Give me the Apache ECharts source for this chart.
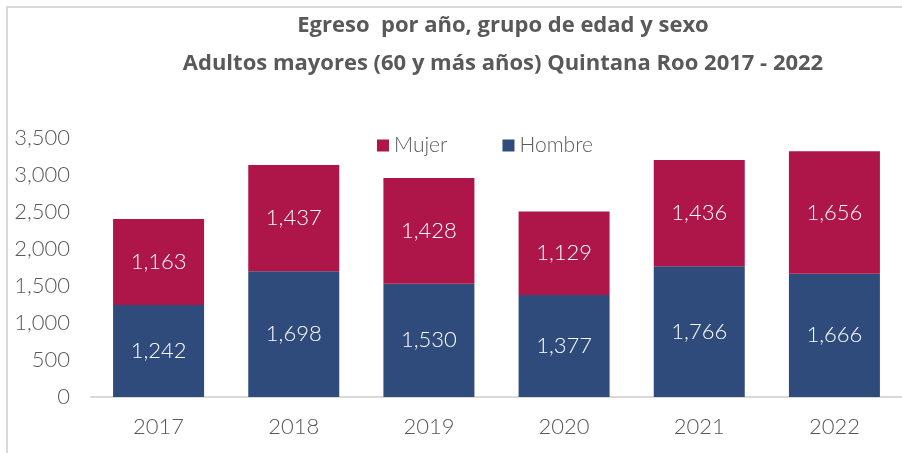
<!DOCTYPE html>
<html>
<head>
<meta charset="utf-8">
<script src="https://cdn.jsdelivr.net/npm/echarts@6/dist/echarts.min.js"></script>
<style>
  html, body { margin: 0; padding: 0; background: #fff; }
  #chart { width: 902px; height: 453px; }
</style>
</head>
<body>
<div id="chart"></div>
<script>
// datos
const years = ['2017', '2018', '2019', '2020', '2021', '2022'];
const hombre = [1242, 1698, 1530, 1377, 1766, 1666];
const mujer = [1163, 1437, 1428, 1129, 1436, 1656];
const yTicks = { min: 0, max: 3500, interval: 500 };

const gray = '#595959';
const fmt = v => v.toLocaleString('en-US');
const lightFont = 'Lato';

const chart = echarts.init(document.getElementById('chart'), null, { renderer: 'canvas' });

chart.setOption({
    animation: false,
    title: {
        text: 'Egreso  por año, grupo de edad y sexo\nAdultos mayores (60 y más años) Quintana Roo 2017 - 2022',
        left: 498,
        top: 2,
        textAlign: 'center',
        textStyle: {
            fontFamily: 'Open Sans',
            fontWeight: 'bold',
            fontSize: 22,
            color: gray,
            lineHeight: 38
        }
    },
    legend: {
        data: ['Mujer', 'Hombre'],
        left: 372,
        top: 130,
        itemWidth: 12,
        itemHeight: 12,
        itemGap: 55,
        icon: 'rect',
        textStyle: { fontFamily: lightFont, fontWeight: 300, fontSize: 21, color: gray }
    },
    graphic: [{
        type: 'polyline',
        shape: { points: [[7, 453], [7, 7], [902, 7]] },
        style: { stroke: '#d9d9d9', lineWidth: 2, fill: null }
    }],
    grid: { left: 91, top: 138, width: 823, height: 259 },
    xAxis: {
        type: 'category',
        data: years,
        axisLine: { lineStyle: { color: '#d9d9d9', width: 2 } },
        axisTick: { show: false },
        axisLabel: {
            margin: 19,
            fontFamily: lightFont, fontWeight: 300, fontSize: 22, color: gray
        }
    },
    yAxis: {
        type: 'value',
        min: yTicks.min,
        max: yTicks.max,
        interval: yTicks.interval,
        splitLine: { show: false },
        axisLine: { show: false },
        axisTick: { show: false },
        axisLabel: {
            margin: 21,
            formatter: fmt,
            fontFamily: lightFont, fontWeight: 300, fontSize: 22, color: gray
        }
    },
    series: [
        {
            name: 'Hombre',
            type: 'bar',
            stack: 'total',
            barWidth: 91,
            data: hombre,
            itemStyle: { color: '#2f4b7c' },
            label: {
                show: true, position: 'inside', formatter: p => fmt(p.value),
                fontFamily: lightFont, fontWeight: 300, fontSize: 22, color: '#fff'
            }
        },
        {
            name: 'Mujer',
            type: 'bar',
            stack: 'total',
            barWidth: 91,
            data: mujer,
            itemStyle: { color: '#ae1548' },
            label: {
                show: true, position: 'inside', formatter: p => fmt(p.value),
                fontFamily: lightFont, fontWeight: 300, fontSize: 22, color: '#fff'
            }
        }
    ]
});
</script>
</body>
</html>
